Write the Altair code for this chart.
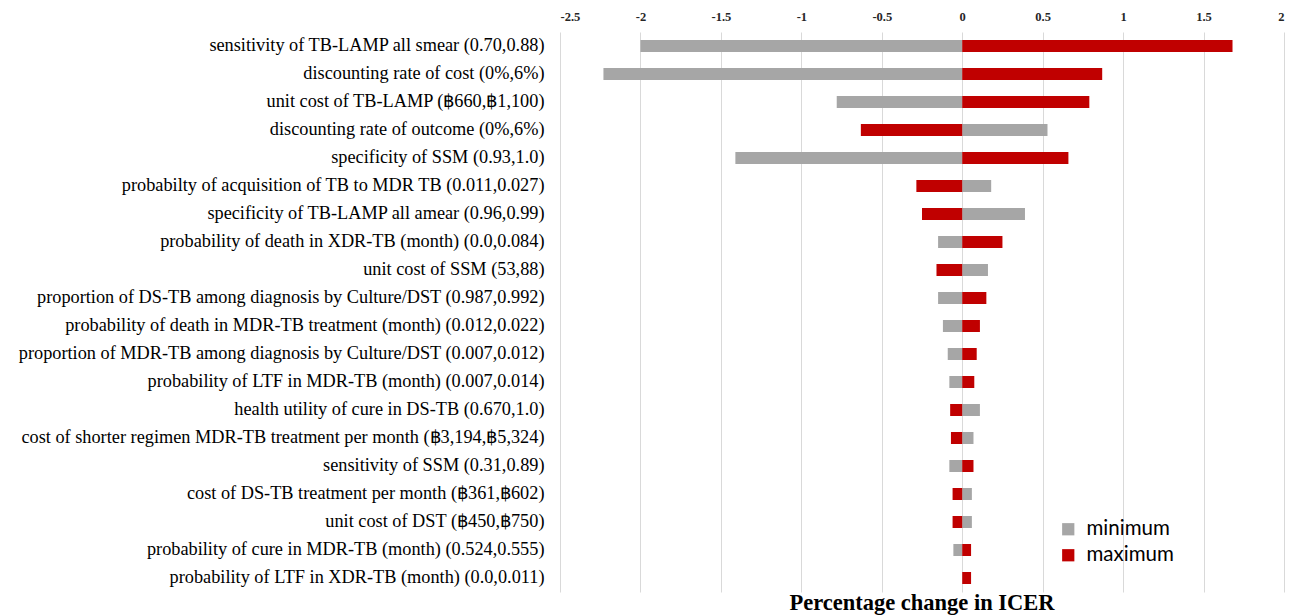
import altair as alt
import pandas as pd

params = [
    "sensitivity of TB-LAMP all smear (0.70,0.88)",
    "discounting rate of cost (0%,6%)",
    "unit cost of TB-LAMP (฿660,฿1,100)",
    "discounting rate of outcome (0%,6%)",
    "specificity of SSM (0.93,1.0)",
    "probabilty of acquisition of TB to MDR TB (0.011,0.027)",
    "specificity of TB-LAMP all amear (0.96,0.99)",
    "probability of death in XDR-TB (month)  (0.0,0.084)",
    "unit cost of SSM (53,88)",
    "proportion of DS-TB among diagnosis by Culture/DST (0.987,0.992)",
    "probability of death in MDR-TB treatment (month)  (0.012,0.022)",
    "proportion of MDR-TB among diagnosis by Culture/DST (0.007,0.012)",
    "probability of LTF in MDR-TB (month) (0.007,0.014)",
    "health utility of cure in DS-TB  (0.670,1.0)",
    "cost of shorter regimen MDR-TB treatment per month (฿3,194,฿5,324)",
    "sensitivity of SSM (0.31,0.89)",
    "cost of DS-TB treatment per month (฿361,฿602)",
    "unit cost of  DST (฿450,฿750)",
    "probability of cure in MDR-TB (month)  (0.524,0.555)",
    "probability of LTF in XDR-TB (month)  (0.0,0.011)",
]

minimum = [-2.0, -2.23, -0.78, 0.53, -1.41, 0.18, 0.39, -0.15, 0.16, -0.15,
           -0.12, -0.09, -0.08, 0.11, 0.07, -0.08, 0.06, 0.06, -0.055, 0.0]
maximum = [1.68, 0.87, 0.79, -0.63, 0.66, -0.285, -0.25, 0.25, -0.16, 0.15,
           0.11, 0.09, 0.075, -0.075, -0.07, 0.07, -0.06, -0.06, 0.055, 0.055]

tick_values = [-2.5, -2, -1.5, -1, -0.5, 0, 0.5, 1, 1.5, 2]
series = ["minimum", "maximum"]
colors = ["#a6a6a6", "#c00000"]

rows = []
for p, mn, mx in zip(params, minimum, maximum):
    rows.append({"param": p, "kind": "minimum", "start": 0.0, "end": mn})
    rows.append({"param": p, "kind": "maximum", "start": 0.0, "end": mx})
df = pd.DataFrame(rows)

chart = alt.Chart(df).mark_bar(size=12).encode(
    y=alt.Y(
        "param:N",
        sort=params,
        scale=alt.Scale(paddingInner=0, paddingOuter=0),
        axis=alt.Axis(
            title=None, domain=False, ticks=False, grid=False,
            labelPadding=16, labelFont="Liberation Serif", labelFontSize=18.3,
            labelColor="#000000", labelLimit=1000,
        ),
    ),
    x=alt.X(
        "start:Q",
        scale=alt.Scale(domain=[-2.5, 2], nice=False, zero=False),
        axis=alt.Axis(
            orient="top", values=tick_values, labelExpr="'' + datum.value",
            title=None, domain=False, ticks=False, labelPadding=9,
            labelFont="Liberation Serif", labelFontWeight="bold",
            labelFontSize=12.5, labelColor="#262626",
            gridColor="#d9d9d9", gridWidth=1,
        ),
    ),
    x2="end:Q",
    color=alt.Color(
        "kind:N",
        scale=alt.Scale(domain=series, range=colors),
        legend=alt.Legend(
            orient="none", legendX=498, legendY=487, title=None,
            symbolType="square", symbolSize=150, symbolStrokeWidth=0,
            labelFont="Lato", labelFontSize=20.5, labelColor="#000000",
            rowPadding=5, labelOffset=8,
        ),
    ),
).properties(
    width=724,
    height=560,
    title=alt.TitleParams(
        text="Percentage change in ICER", orient="bottom", anchor="middle",
        font="Liberation Serif", fontSize=22.5, fontWeight="bold",
        color="#000000", offset=0,
    ),
    padding={"left": 552, "top": 24, "right": 3, "bottom": 26},
    autosize=alt.AutoSizeParams(type="none"),
).configure_view(stroke=None)

chart.save("out.html", embed_options={"renderer": "svg", "actions": False})
